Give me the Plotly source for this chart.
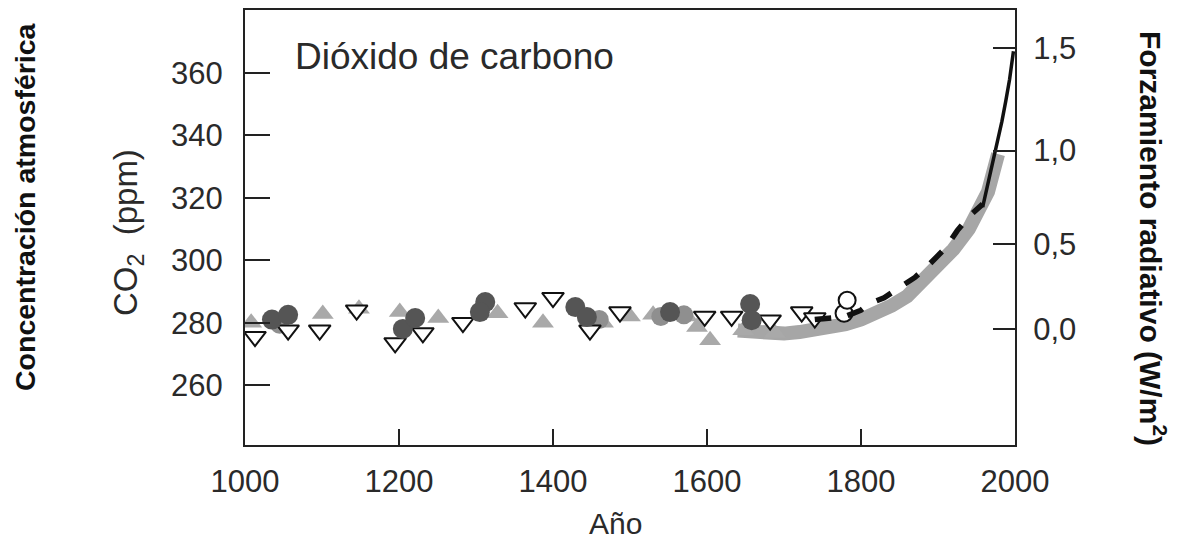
import numpy as np
import plotly.graph_objects as go

# ---------------- data ----------------
tri_open_year = [1013, 1056, 1097, 1145, 1195, 1231, 1283, 1364, 1400, 1448, 1487,
                 1597, 1632, 1682, 1723, 1740]
tri_open_ppm = [275.5, 277.6, 277.6, 284.0, 273.5, 276.7, 280.0, 284.7, 288.0, 277.6, 283.4,
                282.0, 282.0, 280.8, 283.4, 281.5]

circ_dark_year = [1035, 1056, 1205, 1221, 1312, 1305, 1429, 1444, 1552, 1656, 1658]
circ_dark_ppm = [281.0, 282.5, 278.0, 281.5, 286.6, 283.4, 285.0, 281.8, 283.4, 286.0, 280.8]

circ_light_year = [1045, 1460, 1540, 1570]
circ_light_ppm = [279.5, 281.0, 282.0, 282.5]

tri_gray_year = [1008, 1101, 1148, 1201, 1251, 1328, 1387, 1465, 1500, 1530, 1574,
                 1587, 1604, 1647, 1688]
tri_gray_ppm = [280.0, 282.8, 284.5, 283.4, 281.5, 283.0, 280.0, 280.0, 282.0, 282.5, 282.0,
                278.6, 274.4, 277.6, 276.7]

circ_open_year = [1778, 1782]
circ_open_ppm = [283.0, 287.2]

band_year = [1640, 1660, 1680, 1700, 1720, 1740, 1760, 1780, 1800, 1820, 1840, 1860,
             1880, 1900, 1920, 1940, 1955, 1965, 1978]
band_ppm = [277.5, 277.0, 276.5, 276.5, 277.0, 277.5, 278.5, 279.5, 281.0, 283.0, 285.5,
            288.5, 293.5, 298.0, 303.5, 310.0, 316.0, 322.0, 334.0]

ice_year = [1740, 1760, 1780, 1800, 1810, 1830, 1850, 1870, 1890, 1910, 1925, 1940, 1958]
ice_ppm = [281.0, 281.5, 282.0, 284.0, 286.0, 288.0, 291.0, 294.5, 299.0, 304.0, 309.5, 314.0, 318.0]

ml_year = [1958, 1963, 1968, 1973, 1978, 1983, 1988, 1993, 1998]
ml_ppm = [317.0, 322.5, 327.5, 333.0, 338.5, 344.5, 351.0, 358.0, 367.0]

x_ticks = [1000, 1200, 1400, 1600, 1800, 2000]
y_ticks = [260, 280, 300, 320, 340, 360]
forcing_ticks = [0.0, 0.5, 1.0, 1.5]
forcing_text = ["0,0", "0,5", "1,0", "1,5"]

# forcing -> concentration (logarithmic relation) for right-axis tick positions
forcing_ppm = [278.0 * np.exp(f / 5.35) for f in forcing_ticks]

FONT = "Liberation Sans, Arial, Helvetica, sans-serif"
TXT = "#2a2a2a"

# page body has an 8px margin; figure is sized/placed so the plot lands where the reference has it
OFF = 8
L, R, T, B = 245 - OFF, 167, 10 - OFF, 95
W, H = 1182 - OFF, 540 - OFF
pw, ph = W - L - R, H - T - B

fig = go.Figure()

fig.add_trace(go.Scatter(x=band_year, y=band_ppm, mode="lines",
                         line=dict(color="#a6a6a6", width=14), hoverinfo="skip"))
fig.add_trace(go.Scatter(x=tri_gray_year, y=tri_gray_ppm, mode="markers",
                         marker=dict(symbol="triangle-up", size=19, color="#a9a9a9",
                                     line=dict(width=0))))
fig.add_trace(go.Scatter(x=circ_light_year, y=circ_light_ppm, mode="markers",
                         marker=dict(symbol="circle", size=19, color="#8f8f8f",
                                     line=dict(width=0))))
fig.add_trace(go.Scatter(x=tri_open_year, y=tri_open_ppm, mode="markers",
                         marker=dict(symbol="triangle-down", size=19, color="white",
                                     line=dict(width=2, color="#111"))))
fig.add_trace(go.Scatter(x=circ_dark_year, y=circ_dark_ppm, mode="markers",
                         marker=dict(symbol="circle", size=20, color="#555555",
                                     line=dict(width=0))))
fig.add_trace(go.Scatter(x=circ_open_year, y=circ_open_ppm, mode="markers",
                         marker=dict(symbol="circle", size=17, color="white",
                                     line=dict(width=2, color="#111"))))
fig.add_trace(go.Scatter(x=ice_year, y=ice_ppm, mode="lines",
                         line=dict(color="#111", width=5.5, dash="dash")))
fig.add_trace(go.Scatter(x=ml_year, y=ml_ppm, mode="lines",
                         line=dict(color="#111", width=3.5)))
# invisible trace to activate right axis
fig.add_trace(go.Scatter(x=[1000], y=[300], yaxis="y2", mode="markers",
                         marker=dict(opacity=0), hoverinfo="skip"))

yr = [240.8, 380.2]
fig.update_layout(
    width=W, height=H,
    margin=dict(l=L, r=R, t=T, b=B, autoexpand=False),
    paper_bgcolor="white", plot_bgcolor="white",
    showlegend=False,
    font=dict(family=FONT, color=TXT),
    xaxis=dict(range=[1000, 2000], tickvals=x_ticks, ticks="inside", ticklen=16,
               tickwidth=1.5, tickcolor="#222", showline=True, linecolor="#222",
               linewidth=2, mirror=True, showgrid=False, zeroline=False, automargin=False,
               tickfont=dict(size=31, color=TXT), ticklabelstandoff=8),
    yaxis=dict(range=yr, tickvals=y_ticks, ticks="inside", ticklen=25,
               tickwidth=1.5, tickcolor="#222", showline=True, linecolor="#222",
               linewidth=2, showgrid=False, zeroline=False, automargin=False,
               tickfont=dict(size=31, color=TXT), ticklabelstandoff=14),
    yaxis2=dict(range=yr, overlaying="y", side="right", tickvals=forcing_ppm,
                ticktext=forcing_text, ticks="inside", ticklen=22, tickwidth=1.5,
                tickcolor="#222", showline=True, linecolor="#222", linewidth=2,
                showgrid=False, zeroline=False, automargin=False,
                tickfont=dict(size=31, color=TXT), ticklabelstandoff=10),
)


def px_to_paper(px, py):
    # px, py are target-screen pixels
    return (px - OFF - L) / pw, (H - B - (py - OFF)) / ph


ann_specs = [
    (293, 57, "Dióxido de carbono", 0, 37, False, "left"),
    (615, 523, "Año", 0, 30, False, "center"),
    (128, 233, "CO<sub>2</sub>  (ppm)", -90, 33, False, "center"),
    (25, 207, "<b>Concentración atmosférica</b>", -90, 28.5, True, "center"),
    (1153, 238, "<b>Forzamiento radiativo (W/m<sup>2</sup>)</b>", 90, 30, True, "center"),
]
for px, py, txt, ang, sz, bold, xa in ann_specs:
    xp, yp = px_to_paper(px, py)
    fig.add_annotation(x=xp, y=yp, xref="paper", yref="paper", xanchor=xa,
                       yanchor="middle", text=txt, textangle=ang, showarrow=False,
                       font=dict(size=sz, color="#111" if bold else TXT, family=FONT))

fig.write_html("out.html")
